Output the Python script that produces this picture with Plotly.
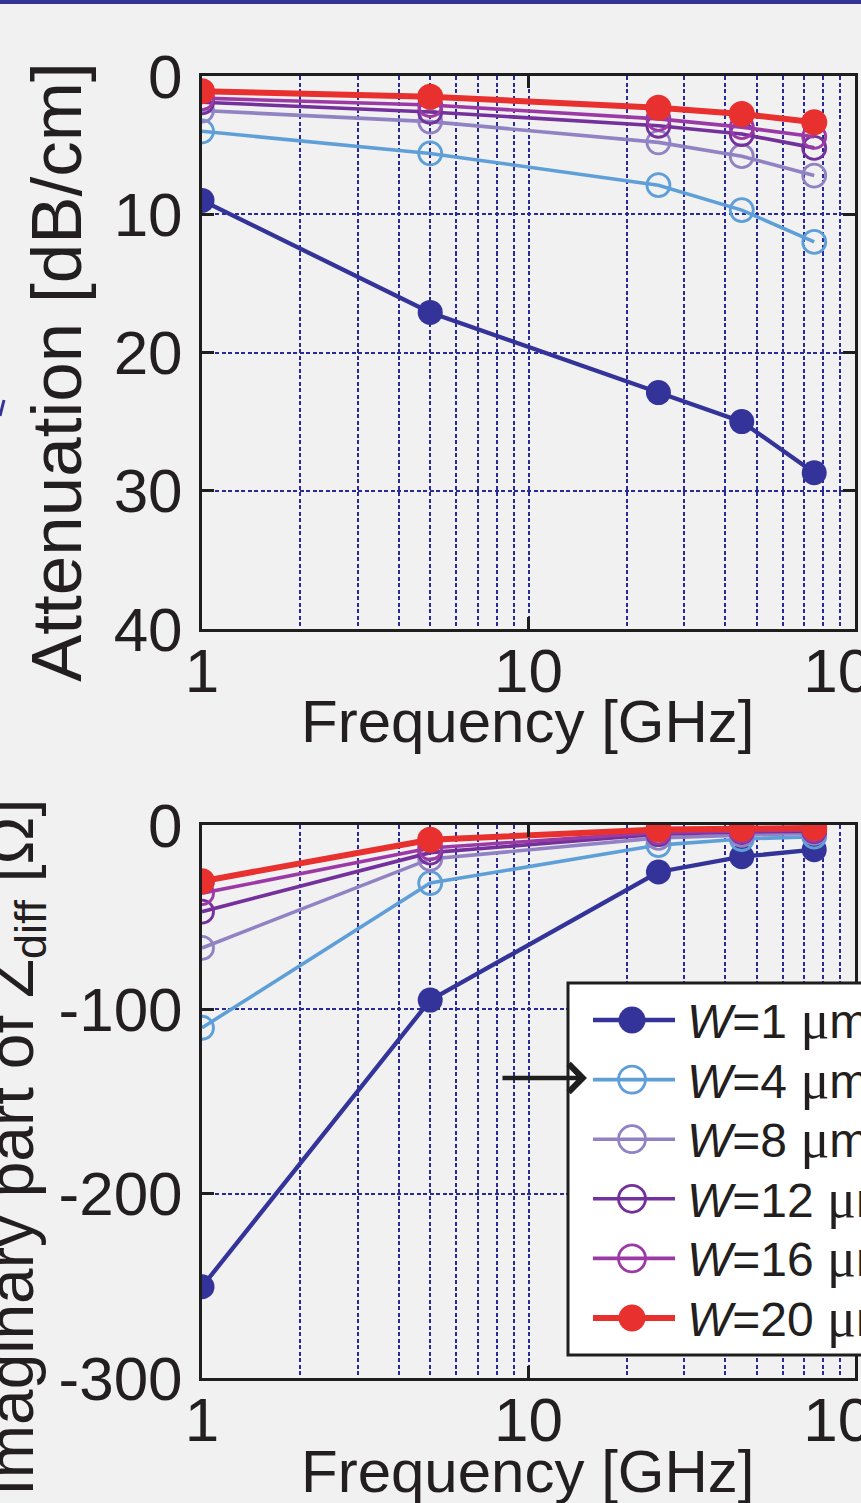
import plotly.graph_objects as go

W, H = 861, 1503

freq = [1, 5, 25, 45, 75]
series_names = ["W=1 μm", "W=4 μm", "W=8 μm", "W=12 μm", "W=16 μm", "W=20 μm"]
width_labels = ["1", "4", "8", "12", "16", "20"]

att_w1 = [9.0, 17.1, 22.9, 25.0, 28.7]
att_w4 = [4.0, 5.6, 7.9, 9.7, 12.0]
att_w8 = [2.5, 3.3, 4.8, 5.8, 7.2]
att_w12 = [1.9, 2.6, 3.6, 4.2, 5.2]
att_w16 = [1.6, 2.1, 3.1, 3.7, 4.4]
att_w20 = [1.1, 1.5, 2.3, 2.75, 3.35]

im_w1 = [-250.5, -95.0, -25.5, -17.2, -13.4]
im_w4 = [-110.0, -31.5, -10.9, -7.6, -6.3]
im_w8 = [-66.7, -18.4, -7.0, -5.4, -4.3]
im_w12 = [-47.0, -15.0, -5.0, -3.8, -3.3]
im_w16 = [-37.0, -12.5, -4.0, -3.2, -2.7]
im_w20 = [-30.5, -8.0, -2.5, -2.0, -1.6]

att_vals = [att_w1, att_w4, att_w8, att_w12, att_w16, att_w20]
im_vals = [im_w1, im_w4, im_w8, im_w12, im_w16, im_w20]

x_tickvals = [1, 10, 100]
x_ticktext = ["1", "10", "100"]
x_minor = [2, 3, 4, 5, 6, 7, 8, 9, 20, 30, 40, 50, 60, 70, 80, 90]
att_ticks = [0, 10, 20, 30, 40]
im_ticks = [-300, -200, -100, 0]
im_ticktext = ["-300", "-200", "-100", "0"]

colors = ["#333399", "#5f9fd8", "#9182c4", "#74309b", "#9c3aa5", "#e8302f"]
filled = [True, False, False, False, False, True]
lwidths = [4.3, 3.6, 3.6, 3.6, 3.6, 6.0]
msizes = [25, 23, 23, 23, 23, 26]

BG = "#f1f1f1"
GRID = "#2a2a96"
FONT = "Liberation Sans, Arial, sans-serif"

fig = go.Figure()

def add_series(yvals, xa, ya):
    for i, yv in enumerate(yvals):
        fig.add_trace(go.Scatter(
            x=freq, y=yv, xaxis=xa, yaxis=ya, mode="lines+markers",
            name=series_names[i], showlegend=False,
            line=dict(color=colors[i], width=lwidths[i]),
            marker=dict(symbol="circle" if filled[i] else "circle-open",
                        size=msizes[i], color=colors[i],
                        line=dict(width=0 if filled[i] else 2.8, color=colors[i])),
        ))

add_series(att_vals, "x", "y")
add_series(im_vals, "x2", "y2")

xdom = [202 / W, 855 / W]
top_dom = [1 - 629 / H, 1 - 76 / H]
bot_dom = [1 - 1378 / H, 1 - 825 / H]

xcommon = dict(type="log", range=[0, 2], domain=xdom, tickvals=x_tickvals, ticktext=x_ticktext,
               showline=True, linecolor="#1e1e1e", linewidth=3, mirror="ticks",
               ticks="inside", ticklen=12, tickwidth=2.5, tickcolor="#1e1e1e",
               showgrid=True, gridcolor=GRID, gridwidth=2.4, griddash="4px,2.5px",
               minor=dict(tickvals=x_minor, showgrid=True, gridcolor=GRID, gridwidth=2.4,
                          griddash="4px,2.5px", ticks=""),
               zeroline=False, ticklabeloverflow="allow", automargin=False,
               ticklabelstandoff=-14,
               tickfont=dict(family=FONT, size=62, color="#231f20"))
ycommon = dict(showline=True, linecolor="#1e1e1e", linewidth=3, mirror="ticks",
               ticks="inside", ticklen=12, tickwidth=2.5, tickcolor="#1e1e1e",
               showgrid=True, gridcolor=GRID, gridwidth=2.4, griddash="4px,2.5px",
               zeroline=False, ticklabeloverflow="allow", automargin=False,
               ticklabelstandoff=4,
               tickfont=dict(family=FONT, size=62, color="#231f20"))

fig.update_layout(
    template="none",
    width=W, height=H, autosize=False,
    margin=dict(l=0, r=0, t=0, b=0, pad=0),
    paper_bgcolor=BG, plot_bgcolor=BG,
    showlegend=False,
    xaxis=dict(**xcommon, anchor="y"),
    yaxis=dict(**ycommon, domain=top_dom, anchor="x", range=[40, 0], tickvals=att_ticks,
               ticktext=[str(v) for v in att_ticks]),
    xaxis2=dict(**xcommon, anchor="y2"),
    yaxis2=dict(**ycommon, domain=bot_dom, anchor="x2", range=[-300, 0], tickvals=im_ticks,
                ticktext=im_ticktext),
)

def px(x):
    return x / W

def py(y):
    return 1 - y / H

annotations = [
    dict(text="Attenuation [dB/cm]", x=px(56), y=py(372), textangle=-90,
         font=dict(family=FONT, size=71, color="#231f20")),
    dict(text="Imaginary part of Z<sub>diff</sub> [Ω]", x=px(15), y=py(1148), textangle=-90,
         font=dict(family=FONT, size=64, color="#231f20")),
    dict(text="Frequency [GHz]", x=px(528), y=py(721),
         font=dict(family=FONT, size=60, color="#231f20")),
    dict(text="Frequency [GHz]", x=px(528), y=py(1471),
         font=dict(family=FONT, size=60, color="#231f20")),
]
for a in annotations:
    a.update(xref="paper", yref="paper", showarrow=False, xanchor="center", yanchor="middle")

shapes = []
# top decorative bar
shapes.append(dict(type="rect", xref="paper", yref="paper", x0=0, x1=1, y0=py(4), y1=1,
                   fillcolor="#333399", line=dict(width=0), layer="above"))
shapes.append(dict(type="line", xref="paper", yref="paper", x0=px(0), x1=px(4), y0=py(416), y1=py(400),
                   line=dict(color="#333399", width=3), layer="above"))

# custom legend
box_l, box_t, box_b = 568, 983, 1355
shapes.append(dict(type="rect", xref="paper", yref="paper", x0=px(box_l), x1=px(W + 20),
                   y0=py(box_b), y1=py(box_t), fillcolor="white",
                   line=dict(color="#1e1e1e", width=3), layer="above"))
row_y0, row_dy = 1020, 59.6
for i in range(len(series_names)):
    ry = row_y0 + i * row_dy
    shapes.append(dict(type="line", xref="paper", yref="paper", x0=px(593), x1=px(675),
                       y0=py(ry), y1=py(ry), line=dict(color=colors[i], width=lwidths[i]),
                       layer="above"))
    r = 13.5
    shapes.append(dict(type="circle", xref="paper", yref="paper",
                       x0=px(632 - r), x1=px(632 + r), y0=py(ry + r), y1=py(ry - r),
                       fillcolor=colors[i] if filled[i] else "rgba(0,0,0,0)",
                       line=dict(color=colors[i], width=0 if filled[i] else 2.8),
                       layer="above"))
    annotations.append(dict(
        text="<i>W</i>=" + width_labels[i]
             + " <span style=\"font-family:Liberation Serif;font-size:54px\">μ</span>m",
        x=px(685), y=py(ry), xref="paper", yref="paper", showarrow=False,
        xanchor="left", yanchor="middle",
        font=dict(family=FONT, size=48, color="#231f20")))

# arrow pointing to W=4 entry
annotations.append(dict(text="", x=px(587), y=py(1078), xref="paper", yref="paper",
                        ax=-86, ay=0, showarrow=True, arrowhead=4, arrowsize=1.2,
                        arrowwidth=4.5, arrowcolor="#1e1e1e"))

fig.update_layout(annotations=annotations, shapes=shapes)

fig.write_html(
    "out.html",
    config={"displayModeBar": False},
    post_script="document.body.style.margin='0';document.body.style.overflow='hidden';"
                "document.body.style.background='" + BG + "';",
)
